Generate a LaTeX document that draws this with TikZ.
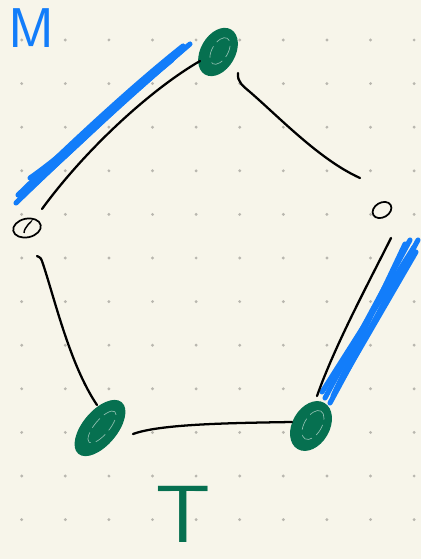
\documentclass[tikz,border=0pt]{standalone}
\usetikzlibrary{shapes.geometric}
\definecolor{bg}{RGB}{247,245,234}
\definecolor{dotc}{RGB}{185,183,175}
\definecolor{gr}{RGB}{6,112,80}
\definecolor{bl}{RGB}{18,125,250}
\begin{document}
\begin{tikzpicture}[x=0.75pt,y=-0.75pt,
  edge/.style={line width=1.7pt,line cap=round,black},
  hl/.style={line width=3.8pt,line cap=round,bl},
  blob/.style={ellipse,fill=gr,draw=gr,line width=1pt,inner sep=0pt},
  scrib/.style={ellipse,draw=gr!45!white,line width=0.5pt,inner sep=0pt,dash pattern=on 9pt off 4pt},
  openv/.style={ellipse,draw=black,line width=1.3pt,inner sep=0pt}]
\fill[bg] (0,0) rectangle (421,559);
\useasboundingbox (0,0) rectangle (421,559);
\foreach \i in {0,...,9}
  \foreach \j in {0,...,11}
    \fill[dotc] (21.7+43.6*\i,40+43.6*\j) circle (1.2pt);
% labels
\node[bl,font=\sffamily\fontsize{42}{42}\selectfont,inner sep=0pt] (lM) at (31,28) {M};
\node[gr,font=\sffamily\fontsize{50}{50}\selectfont,inner sep=0pt,xscale=1.3,yscale=1.22] (lT) at (183,514) {T};
% highlight strokes (blue)
\draw[hl] (190,44) .. controls (130,95) and (60,160) .. (16,203);
\draw[hl] (186,47) .. controls (130,95) and (70,150) .. (30,178);
\draw[hl] (180,52) .. controls (130,92) and (62,160) .. (20,198);
\draw[hl] (172,60) .. controls (122,100) and (70,150) .. (25,192);
\draw[hl] (164,66) .. controls (120,102) and (75,150) .. (34,183);
\draw[hl] (183,46) .. controls (125,92) and (58,156) .. (18,195);
\draw[hl] (410,240) -- (325,398);
\draw[hl] (418,240) -- (330,403);
\draw[hl] (414,247) -- (322,392);
\draw[hl] (405,244) -- (333,396);
\draw[hl] (416,252) -- (336,390);
% vertices
\node[blob,minimum width=38pt,minimum height=25pt,rotate=60] (vT) at (218,52) {};
\node[scrib,minimum width=22pt,minimum height=12pt,rotate=60] (vTs) at (220,51) {};
\node[openv,minimum width=15pt,minimum height=11pt,rotate=30] (vR) at (382,210) {};
\node[blob,minimum width=39pt,minimum height=27pt,rotate=60] (vBR) at (311,426) {};
\node[scrib,minimum width=24pt,minimum height=13pt,rotate=60] (vBRs) at (313,425) {};
\node[blob,minimum width=49.5pt,minimum height=25pt,rotate=50] (vBL) at (100,428) {};
\node[scrib,minimum width=30pt,minimum height=11pt,rotate=50] (vBLs) at (102,427) {};
\node[openv,minimum width=21pt,minimum height=14pt,rotate=12] (vL) at (27,228) {};
\draw[line width=1.1pt] (vL.center) ++(-3,5) .. controls +(0,-6) and +(3,-3) .. ++(6,-10);
% edge end points
\coordinate (e1a) at (200,61);  \coordinate (e1b) at (42,209);
\coordinate (e2a) at (238,73);  \coordinate (e2b) at (360,178);
\coordinate (e3a) at (391,238); \coordinate (e3b) at (317,396);
\coordinate (e4a) at (292,422); \coordinate (e4b) at (133,434);
\coordinate (e5a) at (37,256);  \coordinate (e5b) at (97,405);
% edges
\draw[edge] (e1a) .. controls (150,90) and (85,150) .. (e1b);
\draw[edge] (e2a) .. controls (237,82) and (243,86) .. (250,92) .. controls (280,118) and (320,160) .. (e2b);
\draw[edge] (e3a) .. controls (370,280) and (335,345) .. (e3b);
\draw[edge] (e4a) .. controls (230,423) and (160,424) .. (e4b);
\draw[edge] (e5a) .. controls (41,258) .. (43,264) .. controls (55,300) and (70,365) .. (e5b);
\end{tikzpicture}
\end{document}
